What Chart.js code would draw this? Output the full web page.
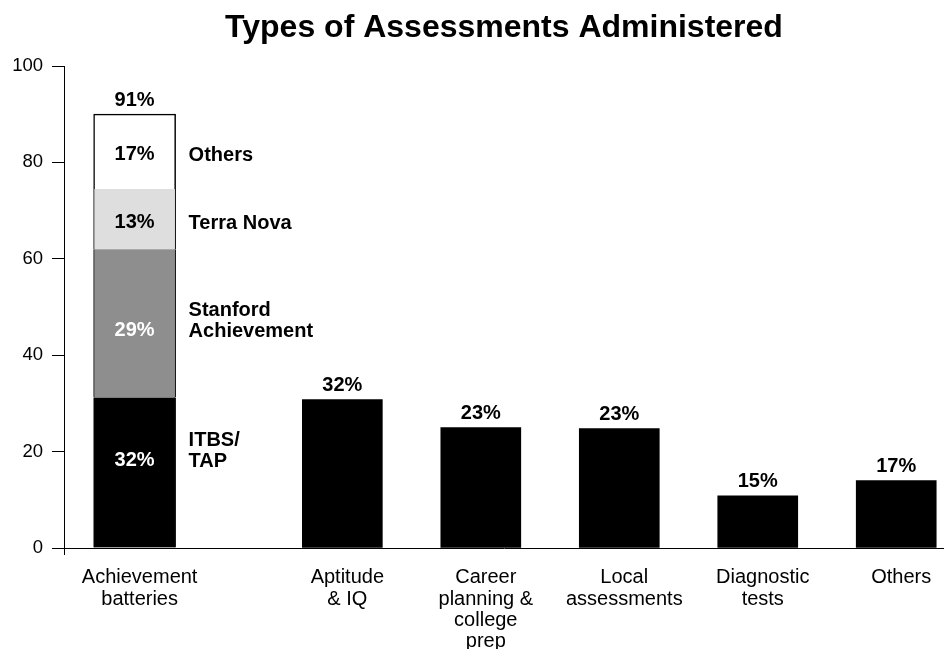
<!DOCTYPE html>
<html>
<head>
<meta charset="utf-8">
<script src="https://cdn.jsdelivr.net/npm/chart.js@4/dist/chart.umd.min.js"></script>
<style>
  html, body { margin: 0; padding: 0; background: #fff; }
  #wrap { width: 944px; height: 649px; position: relative; }
</style>
</head>
<body>
<div id="wrap"><canvas id="assessChart"></canvas></div>
<script>
// Types of Assessments Administered

const categories = [
    ['Achievement', 'batteries'],
    ['Aptitude', '& IQ'],
    ['Career', 'planning &', 'college', 'prep'],
    ['Local', 'assessments'],
    ['Diagnostic', 'tests'],
    ['Others']
];
const topLabels = ['91%', '32%', '23%', '23%', '15%', '17%'];

// stacked segments of the achievement batteries bar (bottom to top)
const segmentNames = [['ITBS/', 'TAP'], ['Stanford', 'Achievement'], ['Terra Nova'], ['Others']];
const segmentValues = [31.2, 30.8, 12.5, 15.5];
const segmentLabels = ['32%', '29%', '13%', '17%'];

// remaining categories (Aptitude .. Others)
const otherValues = [30.8, 25.0, 24.8, 10.8, 14.0];

const yTicks = [0, 20, 40, 60, 80, 100];

const FONT = "'Liberation Sans', Arial, Helvetica, sans-serif";
const segmentColors = ['#000000', '#8e8e8e', '#dedede', '#ffffff'];
const segmentTextColors = ['#ffffff', '#ffffff', '#000000', '#000000'];
// where the label sits inside each segment, as a fraction from its bottom
const segmentAnchor = [0.6, 0.47, 0.5, 0.5];

// first bar stands apart from the others
function slotOf(i) {
    return i === 0 ? 0 : 2 * i + 1;
}
const slots = categories.map((c, i) => slotOf(i));

const datasets = segmentNames.map((name, i) => ({
    label: name.join(' '),
    data: [{ x: slots[0], y: segmentValues[i] }],
    backgroundColor: segmentColors[i],
    borderColor: '#000000',
    borderWidth: i === 3 ? { top: 1.5, left: 1.5, right: 1.5, bottom: 0 } : { top: 0, left: 1, right: 1, bottom: 0 },
    borderSkipped: false,
    barThickness: 82
}));
datasets.push({
    label: 'Other types',
    data: otherValues.map((v, i) => ({ x: slots[i + 1], y: v })),
    backgroundColor: '#000000',
    borderWidth: 0,
    barThickness: 80
});

const labelPlugin = {
    id: 'barLabels',
    afterDatasetsDraw(chart) {
        const ctx = chart.ctx;
        const xs = chart.scales.x;
        const ys = chart.scales.y;
        ctx.save();
        ctx.font = 'bold 20px ' + FONT;
        ctx.textBaseline = 'middle';

        // labels inside the stacked segments and series names beside them
        segmentNames.forEach((name, i) => {
            const el = chart.getDatasetMeta(i).data[0];
            const cy = el.base - segmentAnchor[i] * (el.base - el.y) + 3;
            ctx.fillStyle = segmentTextColors[i];
            ctx.textAlign = 'center';
            ctx.fillText(segmentLabels[i], el.x, cy);
            ctx.fillStyle = '#000';
            ctx.textAlign = 'left';
            name.forEach((line, k) => {
                ctx.fillText(line, el.x + el.width / 2 + 13, cy + 1 - (name.length - 1 - k) * 21.5);
            });
        });

        // totals above the bars
        ctx.fillStyle = '#000';
        ctx.textAlign = 'center';
        const totals = [segmentValues.reduce((a, b) => a + b, 0)].concat(otherValues);
        totals.forEach((t, i) => {
            ctx.fillText(topLabels[i], xs.getPixelForValue(slots[i]), ys.getPixelForValue(t) - 14);
        });
        ctx.restore();
    },
    afterDraw(chart) {
        // y axis line runs a little below the x axis
        const ctx = chart.ctx;
        const area = chart.chartArea;
        ctx.save();
        ctx.strokeStyle = '#000';
        ctx.lineWidth = 1;
        ctx.beginPath();
        ctx.moveTo(area.left + 0.5, area.bottom);
        ctx.lineTo(area.left + 0.5, area.bottom + 7);
        ctx.stroke();
        ctx.restore();
    }
};

new Chart(document.getElementById('assessChart').getContext('2d'), {
    type: 'bar',
    data: { datasets: datasets },
    options: {
        responsive: true,
        maintainAspectRatio: false,
        animation: false,
        layout: { padding: 0 },
        plugins: {
            legend: { display: false },
            tooltip: { enabled: false },
            title: {
                display: true,
                fullSize: false,
                text: 'Types of Assessments Administered',
                color: '#000',
                font: { family: FONT, size: 32, weight: 'bold', lineHeight: 1.2 },
                padding: { top: 8.5, bottom: 19.1 }
            }
        },
        scales: {
            x: {
                type: 'linear',
                stacked: true,
                offset: false,
                min: -1.02,
                max: 11.69,
                grid: { display: false },
                border: { display: true, color: '#000', width: 1 },
                afterBuildTicks(scale) {
                    scale.ticks = slots.map(v => ({ value: v }));
                },
                afterFit(scale) {
                    scale.height = 101;
                },
                ticks: {
                    autoSkip: false,
                    maxRotation: 0,
                    padding: 11,
                    labelOffset: 5,
                    color: '#000',
                    font: { family: FONT, size: 20, lineHeight: 1.07 },
                    callback(value) {
                        const i = slots.indexOf(value);
                        return i >= 0 ? categories[i] : '';
                    }
                }
            },
            y: {
                stacked: true,
                min: 0,
                max: 100,
                afterBuildTicks(scale) {
                    scale.ticks = yTicks.map(v => ({ value: v }));
                },
                afterFit(scale) {
                    scale.width = 64;
                },
                grid: {
                    display: true,
                    drawOnChartArea: false,
                    drawTicks: true,
                    tickLength: 12,
                    color: '#000',
                    lineWidth: 1
                },
                border: { display: true, color: '#000', width: 1 },
                ticks: {
                    padding: 9,
                    color: '#000',
                    font: { family: FONT, size: 18.5 }
                }
            }
        }
    },
    plugins: [labelPlugin]
});
</script>
</body>
</html>
